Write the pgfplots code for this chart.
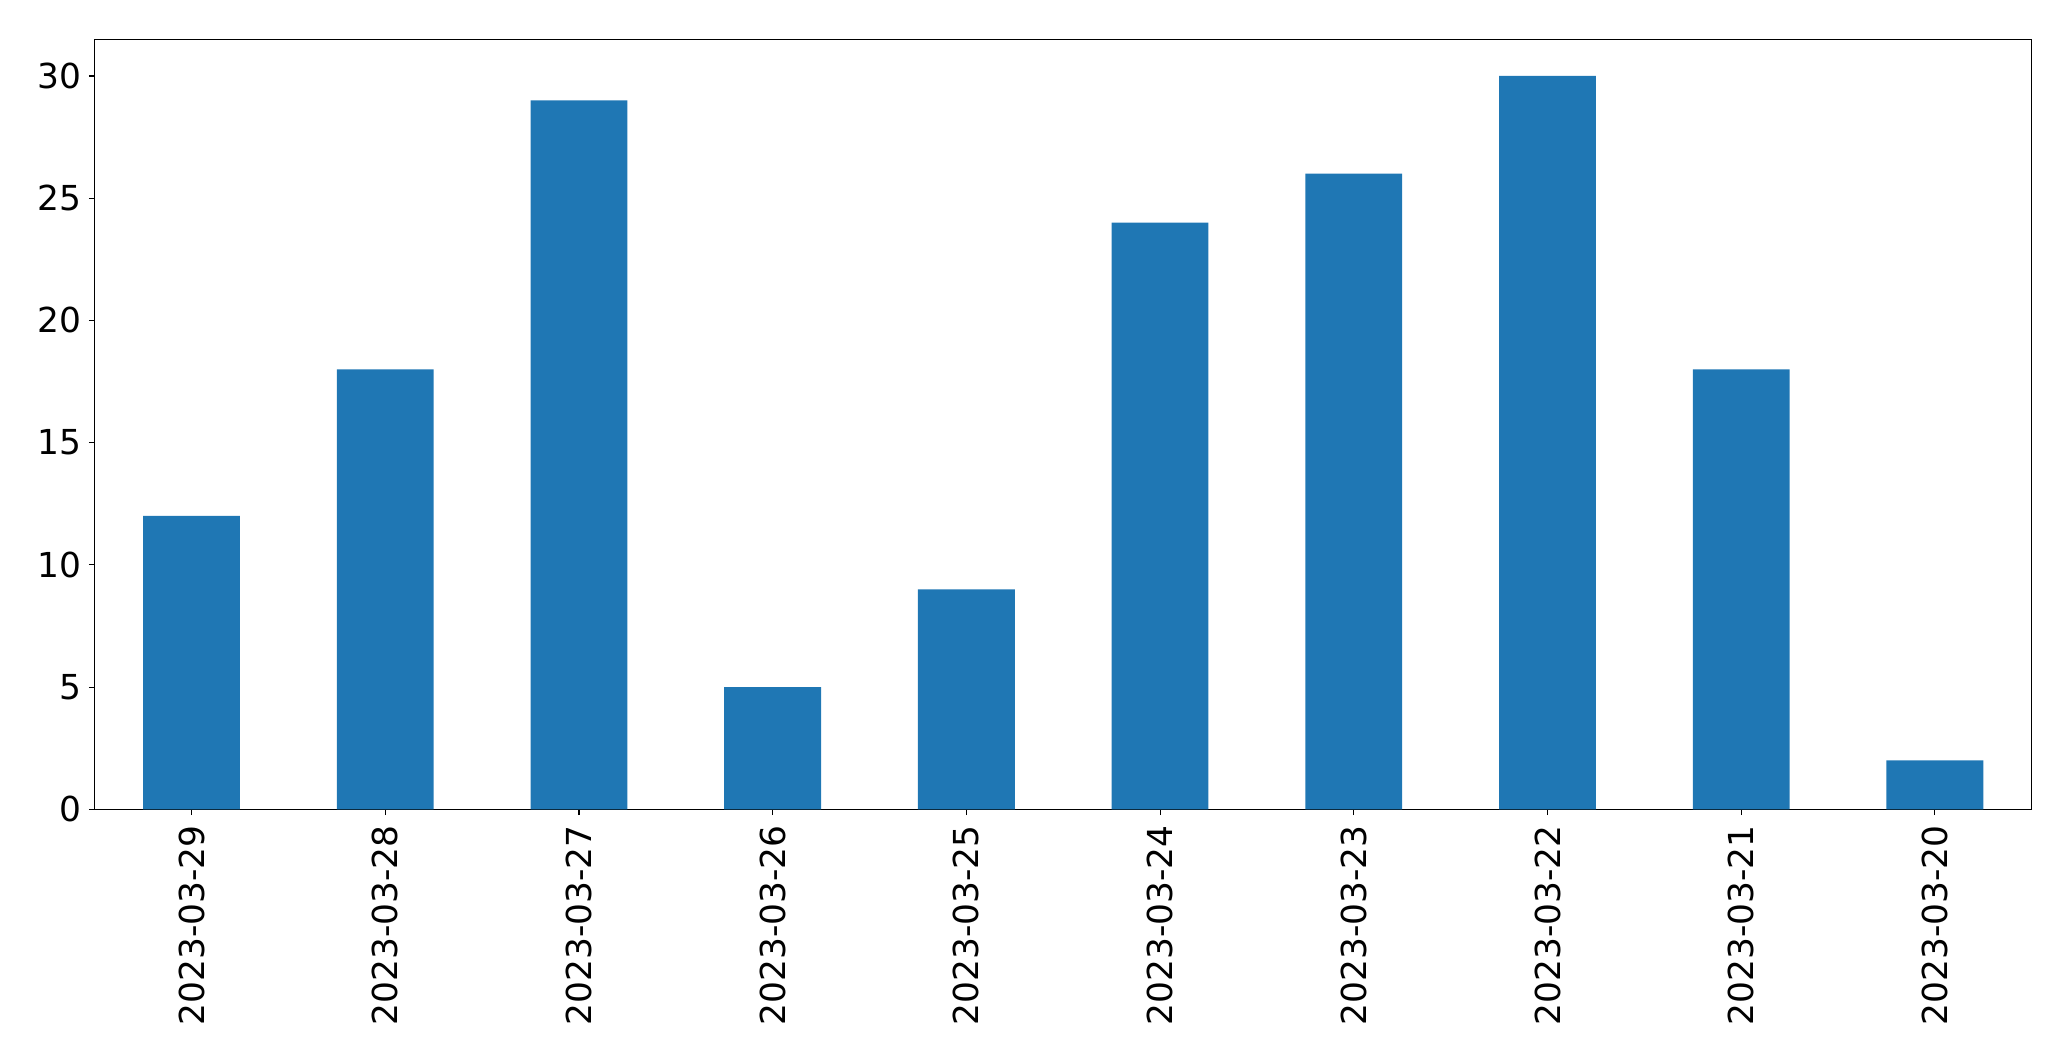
\documentclass[border=0pt]{standalone}
\usepackage{fontspec}
\setmainfont{DejaVu Sans}
\usepackage{pgfplots}
\pgfplotsset{compat=1.18}
\definecolor{mplblue}{HTML}{1F77B4}
\begin{document}
\begin{tikzpicture}
\useasboundingbox (-47.35pt,-125.85pt) rectangle (988.15pt,404.65pt);
\begin{axis}[
  at={(0pt,0pt)}, anchor=south west,
  scale only axis,
  width=968.5pt, height=385pt,
  xmin=-0.5, xmax=9.5,
  ymin=0, ymax=31.5,
  xtick={0,1,2,3,4,5,6,7,8,9},
  xticklabels={2023-03-29,2023-03-28,2023-03-27,2023-03-26,2023-03-25,2023-03-24,2023-03-23,2023-03-22,2023-03-21,2023-03-20},
  ytick={0,5,10,15,20,25,30},
  /pgf/number format/assume math mode=true,
  tick align=outside,
  major tick length=2.85pt,
  tick style={black, line width=0.55pt},
  axis line style={black, line width=0.55pt},
  xtick pos=bottom, ytick pos=left,
  ticklabel style={font=\fontsize{17.2}{20}\selectfont, text=black},
  xticklabel style={rotate=90, anchor=east, inner sep=0pt},
  yticklabel style={inner sep=0pt},
  xticklabel shift=5pt,
  yticklabel shift=3.6pt,
]
\addplot[ybar, bar width=0.5, bar shift=0pt, fill=mplblue, draw=none] coordinates {
(0,12) (1,18) (2,29) (3,5) (4,9) (5,24) (6,26) (7,30) (8,18) (9,2)
};
\end{axis}
\end{tikzpicture}
\end{document}
